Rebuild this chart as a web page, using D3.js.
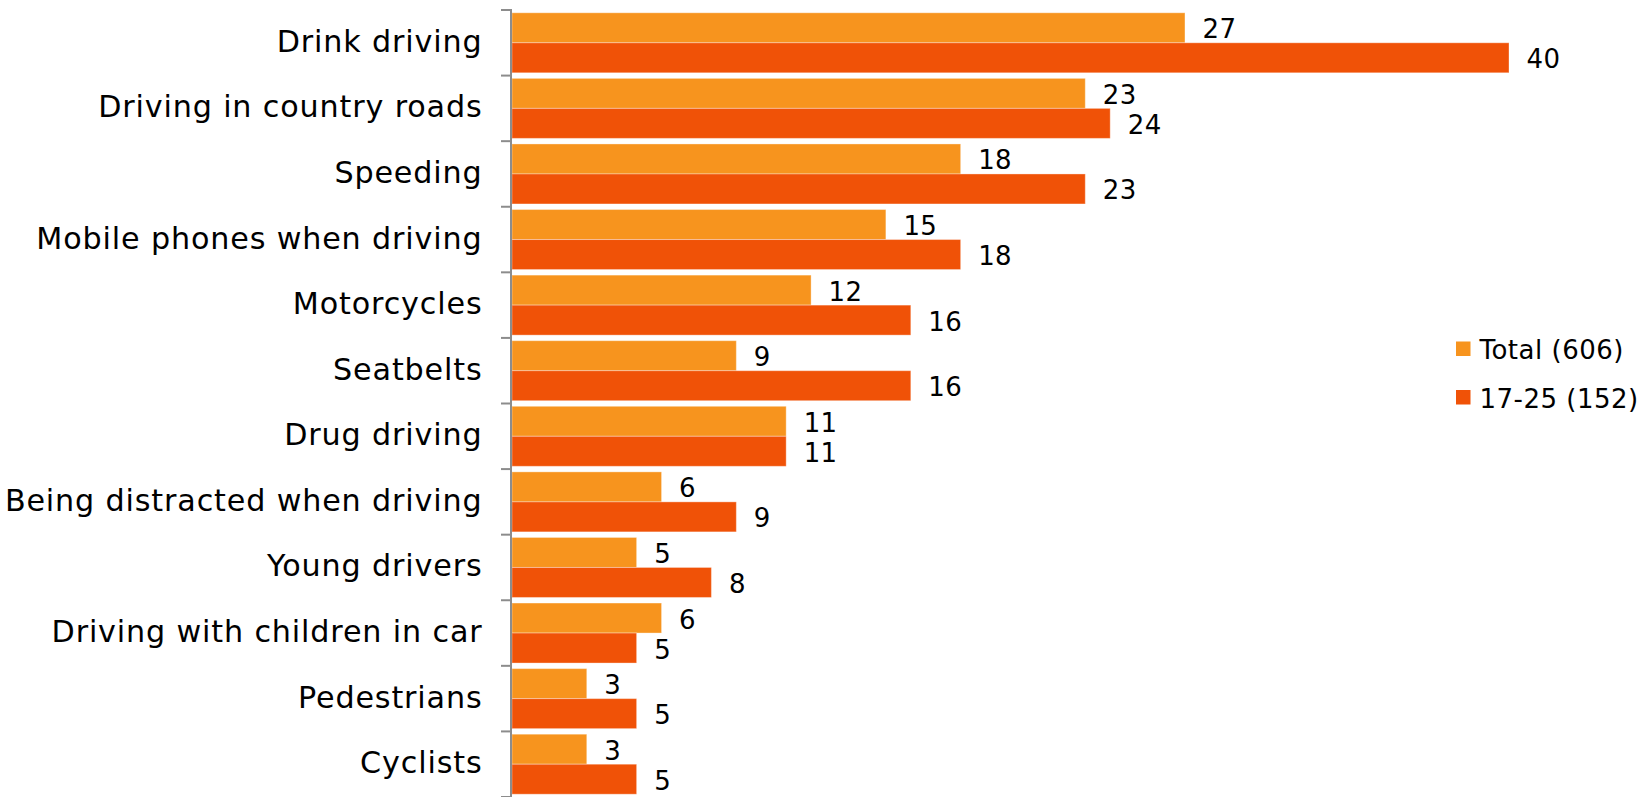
<!DOCTYPE html>
<html>
<head>
<meta charset="utf-8">
<script src="https://cdn.jsdelivr.net/npm/d3@7"></script>
<style>
  html, body { margin: 0; padding: 0; background: #fff; }
  svg { display: block; }
  text { font-family: "DejaVu Sans", Verdana, sans-serif; fill: #000; }
</style>
</head>
<body>
<svg id="chart" width="1649" height="797"></svg>
<script>
// Road-safety topics and the share mentioning each, by respondent group
const categories = [
  "Drink driving",
  "Driving in country roads",
  "Speeding",
  "Mobile phones when driving",
  "Motorcycles",
  "Seatbelts",
  "Drug driving",
  "Being distracted when driving",
  "Young drivers",
  "Driving with children in car",
  "Pedestrians",
  "Cyclists"
];
const totalValues = [27, 23, 18, 15, 12, 9, 11, 6, 5, 6, 3, 3];
const youngValues = [40, 24, 23, 18, 16, 16, 11, 9, 8, 5, 5, 5];
const seriesNames = ["Total (606)", "17-25 (152)"];
const seriesColors = ["#F7941E", "#F05207"];

const svg = d3.select("#chart");
const axisX = 511;

const x = d3.scaleLinear().domain([0, 40]).range([512, 1509]);
const y = d3.scaleBand().domain(categories).range([10, 797]).padding(0);
const sub = d3.scaleBand().domain([0, 1]).range([0, y.bandwidth()])
  .paddingInner(0).paddingOuter(0.093);

const rows = categories.map((c, i) => ({ cat: c, vals: [totalValues[i], youngValues[i]] }));

const g = svg.append("g");
const groups = g.selectAll("g.row").data(rows).join("g")
  .attr("class", "row")
  .attr("transform", d => `translate(0,${y(d.cat)})`);

groups.selectAll("rect").data(d => d.vals.map((v, k) => ({ v, k }))).join("rect")
  .attr("x", x(0))
  .attr("y", d => sub(d.k))
  .attr("width", d => x(d.v) - x(0))
  .attr("height", sub.bandwidth())
  .attr("fill", d => seriesColors[d.k])
  .attr("stroke", "rgba(255,255,255,0.35)")
  .attr("stroke-width", 1);

groups.selectAll("text.val").data(d => d.vals.map((v, k) => ({ v, k }))).join("text")
  .attr("class", "val")
  .attr("x", d => x(d.v) + 17.5)
  .attr("y", d => sub(d.k) + sub.bandwidth() / 2 + 10.5)
  .attr("font-size", 26)
  .attr("letter-spacing", 0.4)
  .text(d => d.v);

// Tick marks between categories and the axis line
const boundaries = categories.map(c => y(c)).concat([y.range()[1]]);
svg.append("g").selectAll("line").data(boundaries).join("line")
  .attr("x1", axisX - 10).attr("x2", axisX)
  .attr("y1", d => d).attr("y2", d => d)
  .attr("stroke", "#8c8c8c").attr("stroke-width", 2);
svg.append("line")
  .attr("x1", axisX).attr("x2", axisX)
  .attr("y1", y.range()[0] - 1).attr("y2", y.range()[1])
  .attr("stroke", "#8c8c8c").attr("stroke-width", 2);

// Category labels
svg.append("g").selectAll("text").data(categories).join("text")
  .attr("x", 482.5)
  .attr("y", d => y(d) + y.bandwidth() / 2 + 9)
  .attr("text-anchor", "end")
  .attr("font-size", 30.2)
  .attr("letter-spacing", 0.85)
  .text(d => d);

// Legend
const legend = svg.append("g").attr("transform", "translate(1456,341.5)");
const items = legend.selectAll("g").data(seriesNames).join("g")
  .attr("transform", (d, i) => `translate(0,${i * 48.5})`);
items.append("rect").attr("width", 14.5).attr("height", 14.5)
  .attr("fill", (d, i) => seriesColors[i]);
items.append("text").attr("x", 23.5).attr("y", 17.5)
  .attr("font-size", 26).attr("letter-spacing", 0.5)
  .text(d => d);
</script>
</body>
</html>
